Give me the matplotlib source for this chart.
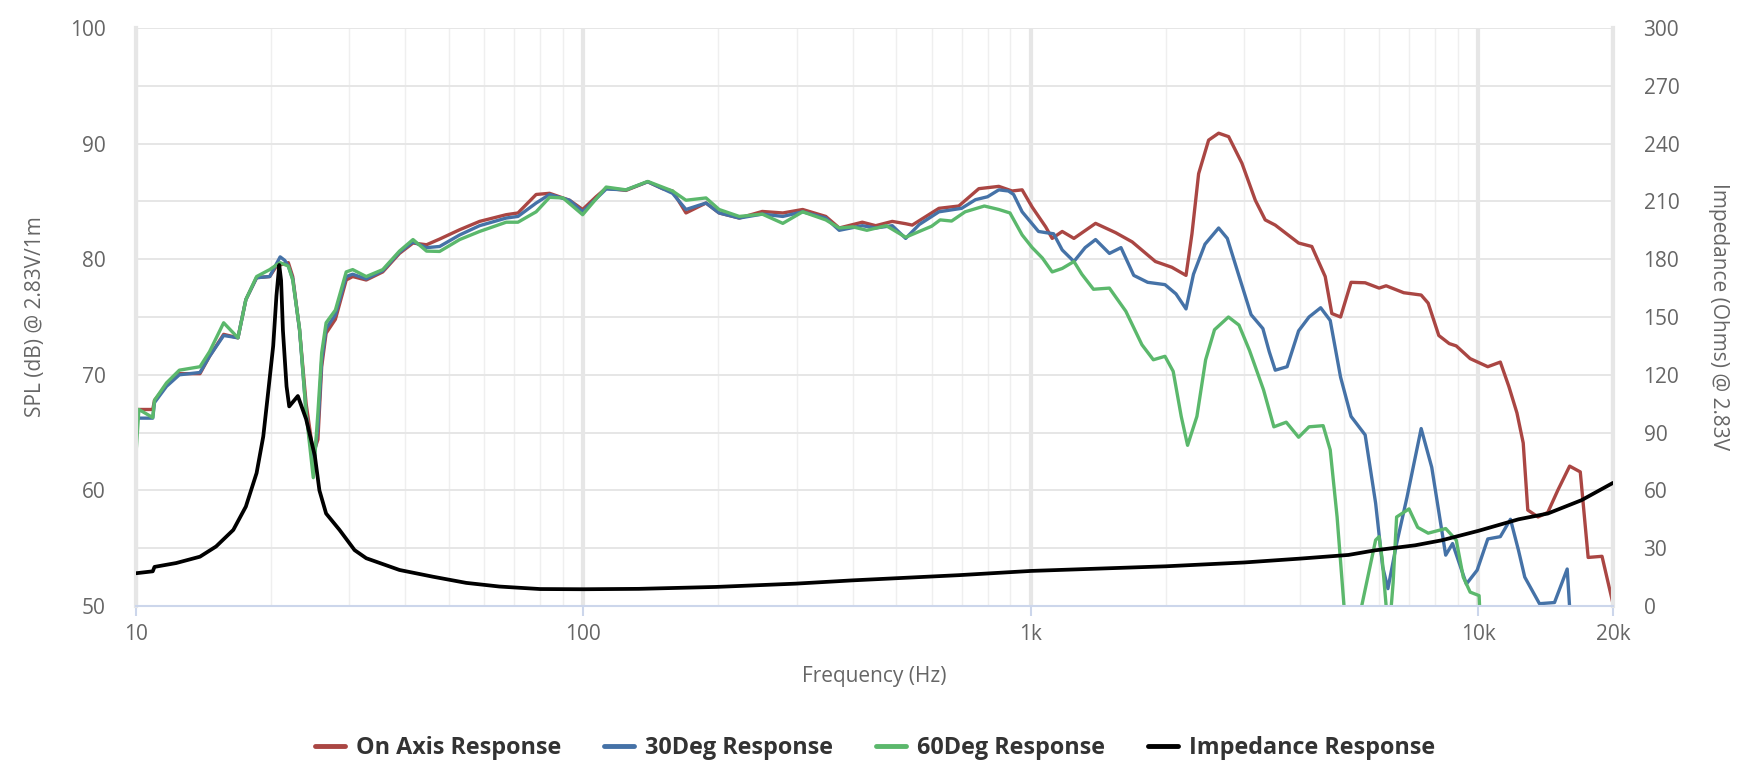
import numpy as np
import matplotlib
matplotlib.use('Agg')
import matplotlib.pyplot as plt
from matplotlib.ticker import FixedLocator, NullFormatter

plt.rcParams['font.family'] = ['Open Sans', 'DejaVu Sans']

# ---- data ----
on_axis_f = [10, 10.9, 11.0, 11.7, 12.5, 13.9, 14.6, 15.7, 16.9, 17.6, 18.6, 19.9, 20.6, 21.0,
             21.9, 22.4, 23.2, 24.0, 24.9, 25.5, 26.0, 26.6, 27.9, 29.5, 30.5, 32.7, 35.6, 38.8,
             41.6, 44.6, 47.7, 52.9, 58.6, 67.2, 71.4, 78.4, 84, 93.1, 99.6, 106.7, 112.4, 124.5,
             139.2, 150.3, 158.2, 169.5, 187.9, 201, 223, 251, 279, 309, 348, 373, 420, 450, 490,
             525, 543, 623, 690, 765, 848, 908, 956, 1007, 1079, 1116, 1175, 1248, 1395, 1546,
             1684, 1898, 2066, 2222, 2291, 2371, 2496, 2628, 2767, 2963, 3174, 3340, 3517, 3966,
             4245, 4548, 4706, 4922, 5195, 5586, 6002, 6223, 6813, 7452, 7726, 8160, 8610, 8927,
             9589, 10500, 11200, 11700, 12200, 12600, 12900, 13600, 14300, 15050, 16000, 16900,
             17600, 18900, 20000]
on_axis_db = [67.0, 67.0, 67.8, 69.1, 70.1, 70.1, 71.6, 73.5, 73.2, 76.5, 78.4, 78.5, 79.4, 79.5,
              79.7, 78.5, 73.9, 67.5, 63.2, 64.4, 70.7, 73.6, 74.8, 78.2, 78.5, 78.2, 78.9, 80.5,
              81.4, 81.25, 81.74, 82.55, 83.27, 83.85, 84.0, 85.6, 85.7, 85.1, 84.3, 85.4, 86.15, 85.95,
              86.7, 86.1, 85.9, 84.0, 84.86, 84.0, 83.56, 84.13, 84.0, 84.3, 83.7, 82.7, 83.2, 82.9, 83.27,
              83.07, 82.95, 84.4, 84.6, 86.1, 86.3, 85.9, 86.0, 84.5, 82.8, 81.8, 82.4, 81.8, 83.1, 82.3,
              81.5, 79.8, 79.3, 78.6, 82.2, 87.4, 90.3, 90.9, 90.6, 88.3, 85.1, 83.4, 82.95, 81.4,
              81.1, 78.5, 75.3, 75.0, 78.0, 77.96, 77.5, 77.7, 77.1, 76.9, 76.2, 73.4, 72.7, 72.5,
              71.4, 70.7, 71.1, 69.0, 66.7, 64.1, 58.3, 57.7, 58.1, 60.0, 62.1, 61.6,
              54.2, 54.3, 50.2]

deg30_f = [10, 10.9, 11.0, 11.7, 12.5, 13.9, 14.6, 15.7, 16.9, 17.6, 18.6, 19.9, 20.6, 21.0,
           21.5, 21.9, 22.4, 23.2, 24.0, 24.9, 25.5, 26.0, 26.6, 27.9, 29.5, 30.5, 32.7, 35.6,
           38.8, 41.6, 44.6, 47.7, 52.9, 58.6, 67.2, 71.4, 78.4, 84, 93.1, 99.6, 112.4, 124.5,
           139.2, 158.2, 169.5, 187.9, 201, 223, 251, 279, 309, 348, 373, 420, 450, 490, 525,
           563, 623, 700, 752, 800, 848, 891, 915, 956, 1040, 1079, 1124, 1175, 1248, 1322, 1395,
           1498, 1590, 1698, 1824, 1994, 2110, 2222, 2309, 2450, 2628, 2748, 2910, 3106, 3300,
           3410, 3517, 3738, 3966, 4185, 4443, 4667, 4922, 5195, 5586, 5895, 6112, 6280, 6568,
           6928, 7452, 7869, 8455, 8760, 9404, 9941, 10500, 11200, 11800, 12300, 12700, 13700,
           14800, 15800, 16300]
deg30_db = [66.25, 66.25, 67.6, 69.0, 70.0, 70.2, 71.6, 73.4, 73.2, 76.5, 78.4, 78.5, 79.6, 80.2,
            79.9, 79.4, 78.3, 73.9, 66.7, 62.1, 65.5, 71.2, 74.0, 75.2, 78.5, 78.7, 78.3, 79.0,
            80.6, 81.5, 81.0, 81.1, 82.1, 82.9, 83.56, 83.7, 84.86, 85.6, 85.1, 84.1, 86.07, 86.0,
            86.7, 85.7, 84.3, 84.86, 84.0, 83.56, 83.9, 83.7, 84.1, 83.56, 82.5, 82.9, 82.7, 82.9, 81.8,
            83.0, 84.1, 84.4, 85.15, 85.4, 86.0, 85.9, 85.6, 84.1, 82.4, 82.3, 82.2, 80.8, 79.8, 81.0, 81.7,
            80.5, 81.0, 78.6, 78.0, 77.8, 77.0, 75.7, 78.7, 81.3, 82.7, 81.8, 78.7, 75.2, 74.0,
            72.0, 70.4, 70.7, 73.8, 75.0, 75.8, 74.7, 69.8, 66.4, 64.8, 58.9, 53.4, 51.5, 55.4,
            59.4, 65.35, 62.0, 54.4, 55.4, 51.9, 53.1, 55.8, 56.0, 57.5, 54.8, 52.5, 50.2,
            50.3, 53.2, 45.0]

deg60_f = [10, 10.15, 10.9, 11.0, 11.7, 12.5, 13.9, 14.6, 15.7, 16.9, 17.6, 18.6, 19.9, 20.6,
           21.0, 21.9, 22.4, 23.2, 24.0, 24.9, 25.5, 26.0, 26.6, 27.9, 29.5, 30.5, 32.7, 35.6,
           38.8, 41.6, 44.6, 47.7, 52.9, 58.6, 67.2, 71.4, 78.4, 84, 90, 99.6, 112.4, 124.5,
           139.2, 158.2, 169.5, 187.9, 201, 223, 251, 279, 309, 348, 373, 400, 430, 475, 525,
           563, 600, 627, 665, 713, 787, 848, 898, 956, 1007, 1061, 1116, 1175, 1248, 1300, 1380,
           1498, 1630, 1771, 1878, 1994, 2080, 2168, 2240, 2350, 2458, 2573, 2764, 2918, 3081,
           3311, 3492, 3722, 3966, 4185, 4500, 4667, 4835, 5010, 5150, 5350, 5487, 5895, 6002,
           6100, 6223, 6300, 6450, 6568, 7000, 7320, 7726, 8455, 8927, 9255, 9589, 10040, 10150]
deg60_db = [63.2, 67.0, 66.3, 67.8, 69.3, 70.4, 70.7, 72.0, 74.5, 73.2, 76.5, 78.5, 79.1, 79.5,
            79.7, 79.4, 78.2, 74.0, 66.7, 61.1, 66.7, 71.9, 74.5, 75.6, 78.9, 79.1, 78.5, 79.1,
            80.7, 81.7, 80.7, 80.67, 81.7, 82.4, 83.2, 83.2, 84.1, 85.35, 85.3, 83.85, 86.24, 86.0,
            86.73, 85.9, 85.1, 85.3, 84.3, 83.7, 83.9, 83.1, 84.1, 83.4, 82.7, 82.8, 82.5, 82.9, 81.9,
            82.4, 82.85, 83.4, 83.3, 84.1, 84.6, 84.3, 84.0, 82.1, 81.0, 80.1, 78.9, 79.2, 79.8, 78.7, 77.4,
            77.5, 75.5, 72.6, 71.3, 71.6, 70.3, 66.4, 63.9, 66.4, 71.3, 73.9, 75.0, 74.3, 72.1,
            68.7, 65.5, 65.9, 64.6, 65.5, 65.6, 63.5, 57.7, 50.0, 44.0, 44.0, 50.0, 55.7, 56.0,
            54.0, 50.0, 47.0, 52.0, 57.7, 58.4, 56.8, 56.3, 56.7, 55.7, 52.5, 51.2, 50.9, 47.0]

imp_f = [10, 10.9, 11.0, 12.3, 13.9, 15.1, 16.5, 17.6, 18.6, 19.25, 19.7, 20.26, 20.6, 20.9,
         21.1, 21.3, 21.7, 22.0, 23.0, 24.0, 25.1, 25.7, 26.6, 28.5, 30.8, 32.7, 38.8, 46.1,
         54.7, 64.9, 80, 100, 133, 198, 298, 399, 690, 1000, 2000, 3000, 4000, 5125, 5880,
         7223, 8283, 10000, 12300, 14300, 17000, 20000]
imp_ohm = [17.0, 18.0, 20.3, 22.3, 25.6, 30.9, 39.5, 51.6, 69, 88, 109, 135, 161, 177,
           169, 143, 114, 103.6, 109, 97, 78, 60, 48, 39.5, 29, 24.8, 18.7, 15.2,
           12.0, 10.1, 8.8, 8.7, 8.9, 9.9, 11.6, 13.3, 16.0, 18.2, 20.6, 22.6, 24.6, 26.5, 28.9,
           31.5, 34.1, 39.0, 45.0, 48.0, 54.9, 63.9]

x_ticks = [10, 100, 1000, 10000, 20000]
x_labels = ['10', '100', '1k', '10k', '20k']
spl_ticks = [50, 60, 70, 80, 90, 100]
imp_ticks = list(range(0, 301, 30))

# ---- figure ----
W, H = 1750, 780
fig = plt.figure(figsize=(W / 100, H / 100), dpi=100)
L, R, T, B = 136, 1613, 28, 606
ax = fig.add_axes([L / W, 1 - B / H, (R - L) / W, (B - T) / H])

red, blue, green = '#aa4643', '#4572a7', '#5bb86c'
lw = 2.4
l1, = ax.plot(on_axis_f, on_axis_db, color=red, lw=lw, label='On Axis Response',
              solid_joinstyle='round', solid_capstyle='round')
l2, = ax.plot(deg30_f, deg30_db, color=blue, lw=lw, label='30Deg Response',
              solid_joinstyle='round', solid_capstyle='round')
l3, = ax.plot(deg60_f, deg60_db, color=green, lw=lw, label='60Deg Response',
              solid_joinstyle='round', solid_capstyle='round')

ax.set_xscale('log')
ax.set_xlim(10, 20000)
ax.set_ylim(50, 100)

ax.set_xticks(x_ticks)
ax.set_xticklabels(x_labels)
ax.xaxis.set_minor_locator(FixedLocator([m * 10 ** d for d in range(1, 4) for m in range(2, 10)] + [20000]))
ax.xaxis.set_minor_formatter(NullFormatter())
ax.set_yticks(np.arange(50, 101, 5))
ax.set_yticklabels([str(v) if v in spl_ticks else '' for v in range(50, 101, 5)])

ax.set_axisbelow(True)
ax.grid(True, which='major', axis='x', color='#e6e6e6', lw=3)
ax.grid(True, which='minor', axis='x', color='#efefef', lw=1)
ax.grid(True, which='major', axis='y', color='#e6e6e6', lw=1.4)

ax.tick_params(axis='x', which='major', length=7, width=1.5, color='#ccd6eb', pad=6,
               labelsize=15, labelcolor='#666666')
ax.tick_params(axis='x', which='minor', length=0)
ax.tick_params(axis='y', length=0, pad=22, labelsize=15, labelcolor='#666666')

for s in ['left', 'right']:
    ax.spines[s].set_color('#e6e6e6')
    ax.spines[s].set_linewidth(3)
ax.spines['top'].set_visible(False)
ax.spines['bottom'].set_color('#ccd6eb')
ax.spines['bottom'].set_linewidth(1.5)

ax.set_xlabel('Frequency (Hz)', fontsize=15, color='#666666', labelpad=15)
ax.set_ylabel('SPL (dB) @ 2.83V/1m', fontsize=15, color='#666666', labelpad=17)

ax2 = ax.twinx()
l4, = ax2.plot(imp_f, imp_ohm, color='black', lw=2.7, label='Impedance Response',
               solid_joinstyle='round', solid_capstyle='round')
ax2.set_ylim(0, 300)
ax2.set_yticks(imp_ticks)
ax2.tick_params(axis='y', length=0, pad=22, labelsize=15, labelcolor='#666666')
for s in ax2.spines.values():
    s.set_visible(False)
fig.text(1719 / W, 1 - (T + B) / 2 / H, 'Impedance (Ohms) @ 2.83V', fontsize=15, color='#666666',
         rotation=270, ha='center', va='center')

leg = fig.legend([l1, l2, l3, l4], [h.get_label() for h in (l1, l2, l3, l4)],
                 loc='center', bbox_to_anchor=(0.5, 1 - 748 / H), ncol=4, frameon=False,
                 prop={'weight': 'bold', 'size': 16.8}, handlelength=1.27, handletextpad=0.48,
                 columnspacing=1.85)
for t in leg.get_texts():
    t.set_color('#333333')
for h in leg.legend_handles:
    h.set_linewidth(3.5)

fig.savefig('out.png', dpi=100, facecolor='white')
